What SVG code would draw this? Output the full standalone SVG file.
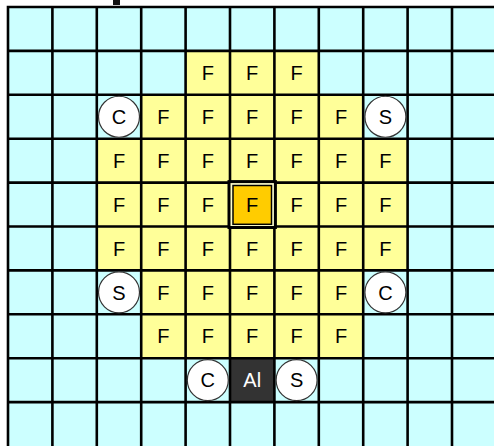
<svg xmlns="http://www.w3.org/2000/svg" width="494" height="447" viewBox="0 0 494 447">
<defs>
<style>
.bg{fill:#CCFFFF}
.f rect{fill:#FFFF99}
.t{font-family:"Liberation Sans",Arial,sans-serif;font-size:20px;text-anchor:middle;fill:#000}
.circ circle{fill:#FFFFFF;stroke:#333333;stroke-width:1.2}
.grid{stroke:#000;stroke-width:2.6;fill:none}
</style>
</defs>
<rect x="0" y="0" width="494" height="447" fill="#FFFFFF"/>
<rect x="113" y="0" width="7" height="5" fill="#111"/>
<rect class="bg" x="8" y="7" width="488.4" height="439"/>
<g id="cells">
<g id="f-1-4" class="f"><rect x="185.6" y="50.9" width="44.4" height="43.9"/><text class="t" x="207.8" y="80">F</text></g>
<g id="f-1-5" class="f"><rect x="230" y="50.9" width="44.4" height="43.9"/><text class="t" x="252.2" y="80">F</text></g>
<g id="f-1-6" class="f"><rect x="274.4" y="50.9" width="44.4" height="43.9"/><text class="t" x="296.6" y="80">F</text></g>
<g id="f-2-3" class="f"><rect x="141.2" y="94.8" width="44.4" height="43.9"/><text class="t" x="163.4" y="123.9">F</text></g>
<g id="f-2-4" class="f"><rect x="185.6" y="94.8" width="44.4" height="43.9"/><text class="t" x="207.8" y="123.9">F</text></g>
<g id="f-2-5" class="f"><rect x="230" y="94.8" width="44.4" height="43.9"/><text class="t" x="252.2" y="123.9">F</text></g>
<g id="f-2-6" class="f"><rect x="274.4" y="94.8" width="44.4" height="43.9"/><text class="t" x="296.6" y="123.9">F</text></g>
<g id="f-2-7" class="f"><rect x="318.8" y="94.8" width="44.4" height="43.9"/><text class="t" x="341" y="123.9">F</text></g>
<g id="f-3-2" class="f"><rect x="96.8" y="138.7" width="44.4" height="43.9"/><text class="t" x="119" y="167.8">F</text></g>
<g id="f-3-3" class="f"><rect x="141.2" y="138.7" width="44.4" height="43.9"/><text class="t" x="163.4" y="167.8">F</text></g>
<g id="f-3-4" class="f"><rect x="185.6" y="138.7" width="44.4" height="43.9"/><text class="t" x="207.8" y="167.8">F</text></g>
<g id="f-3-5" class="f"><rect x="230" y="138.7" width="44.4" height="43.9"/><text class="t" x="252.2" y="167.8">F</text></g>
<g id="f-3-6" class="f"><rect x="274.4" y="138.7" width="44.4" height="43.9"/><text class="t" x="296.6" y="167.8">F</text></g>
<g id="f-3-7" class="f"><rect x="318.8" y="138.7" width="44.4" height="43.9"/><text class="t" x="341" y="167.8">F</text></g>
<g id="f-3-8" class="f"><rect x="363.2" y="138.7" width="44.4" height="43.9"/><text class="t" x="385.4" y="167.8">F</text></g>
<g id="f-4-2" class="f"><rect x="96.8" y="182.6" width="44.4" height="43.9"/><text class="t" x="119" y="211.7">F</text></g>
<g id="f-4-3" class="f"><rect x="141.2" y="182.6" width="44.4" height="43.9"/><text class="t" x="163.4" y="211.7">F</text></g>
<g id="f-4-4" class="f"><rect x="185.6" y="182.6" width="44.4" height="43.9"/><text class="t" x="207.8" y="211.7">F</text></g>
<g id="f-4-6" class="f"><rect x="274.4" y="182.6" width="44.4" height="43.9"/><text class="t" x="296.6" y="211.7">F</text></g>
<g id="f-4-7" class="f"><rect x="318.8" y="182.6" width="44.4" height="43.9"/><text class="t" x="341" y="211.7">F</text></g>
<g id="f-4-8" class="f"><rect x="363.2" y="182.6" width="44.4" height="43.9"/><text class="t" x="385.4" y="211.7">F</text></g>
<g id="f-5-2" class="f"><rect x="96.8" y="226.5" width="44.4" height="43.9"/><text class="t" x="119" y="255.6">F</text></g>
<g id="f-5-3" class="f"><rect x="141.2" y="226.5" width="44.4" height="43.9"/><text class="t" x="163.4" y="255.6">F</text></g>
<g id="f-5-4" class="f"><rect x="185.6" y="226.5" width="44.4" height="43.9"/><text class="t" x="207.8" y="255.6">F</text></g>
<g id="f-5-5" class="f"><rect x="230" y="226.5" width="44.4" height="43.9"/><text class="t" x="252.2" y="255.6">F</text></g>
<g id="f-5-6" class="f"><rect x="274.4" y="226.5" width="44.4" height="43.9"/><text class="t" x="296.6" y="255.6">F</text></g>
<g id="f-5-7" class="f"><rect x="318.8" y="226.5" width="44.4" height="43.9"/><text class="t" x="341" y="255.6">F</text></g>
<g id="f-5-8" class="f"><rect x="363.2" y="226.5" width="44.4" height="43.9"/><text class="t" x="385.4" y="255.6">F</text></g>
<g id="f-6-3" class="f"><rect x="141.2" y="270.4" width="44.4" height="43.9"/><text class="t" x="163.4" y="299.5">F</text></g>
<g id="f-6-4" class="f"><rect x="185.6" y="270.4" width="44.4" height="43.9"/><text class="t" x="207.8" y="299.5">F</text></g>
<g id="f-6-5" class="f"><rect x="230" y="270.4" width="44.4" height="43.9"/><text class="t" x="252.2" y="299.5">F</text></g>
<g id="f-6-6" class="f"><rect x="274.4" y="270.4" width="44.4" height="43.9"/><text class="t" x="296.6" y="299.5">F</text></g>
<g id="f-6-7" class="f"><rect x="318.8" y="270.4" width="44.4" height="43.9"/><text class="t" x="341" y="299.5">F</text></g>
<g id="f-7-3" class="f"><rect x="141.2" y="314.3" width="44.4" height="43.9"/><text class="t" x="163.4" y="343.4">F</text></g>
<g id="f-7-4" class="f"><rect x="185.6" y="314.3" width="44.4" height="43.9"/><text class="t" x="207.8" y="343.4">F</text></g>
<g id="f-7-5" class="f"><rect x="230" y="314.3" width="44.4" height="43.9"/><text class="t" x="252.2" y="343.4">F</text></g>
<g id="f-7-6" class="f"><rect x="274.4" y="314.3" width="44.4" height="43.9"/><text class="t" x="296.6" y="343.4">F</text></g>
<g id="f-7-7" class="f"><rect x="318.8" y="314.3" width="44.4" height="43.9"/><text class="t" x="341" y="343.4">F</text></g>
<g id="al"><rect x="230" y="358.2" width="44.4" height="43.9" fill="#333333"/><text class="t" x="252.2" y="387.3" style="fill:#FFFFFF">Al</text></g>
</g>
<path class="grid" d="M8 7V446M52.4 7V446M96.8 7V446M141.2 7V446M185.6 7V446M230 7V446M274.4 7V446M318.8 7V446M363.2 7V446M407.6 7V446M452 7V446M6.7 7H494M6.7 50.9H494M6.7 94.8H494M6.7 138.7H494M6.7 182.6H494M6.7 226.5H494M6.7 270.4H494M6.7 314.3H494M6.7 358.2H494M6.7 402.1H494"/>
<g id="center">
<rect x="229" y="181.6" width="46.4" height="45.9" fill="#FFFFCC" stroke="#000" stroke-width="3"/>
<rect x="233" y="185.5" width="38.5" height="38.8" fill="#FFCC00" stroke="#000" stroke-width="1.5"/>
<text class="t" x="252.2" y="211.7">F</text>
</g>
<g id="c-2-2" class="circ"><circle cx="119" cy="116.75" r="20.5"/><text class="t" x="119" y="123.9">C</text></g>
<g id="s-2-8" class="circ"><circle cx="385.4" cy="116.75" r="20.5"/><text class="t" x="385.4" y="123.9">S</text></g>
<g id="s-6-2" class="circ"><circle cx="119" cy="292.35" r="20.5"/><text class="t" x="119" y="299.5">S</text></g>
<g id="c-6-8" class="circ"><circle cx="385.4" cy="292.35" r="20.5"/><text class="t" x="385.4" y="299.5">C</text></g>
<g id="c-8-4" class="circ"><circle cx="207.8" cy="380.15" r="20.5"/><text class="t" x="207.8" y="387.3">C</text></g>
<g id="s-8-6" class="circ"><circle cx="296.6" cy="380.15" r="20.5"/><text class="t" x="296.6" y="387.3">S</text></g>
</svg>
